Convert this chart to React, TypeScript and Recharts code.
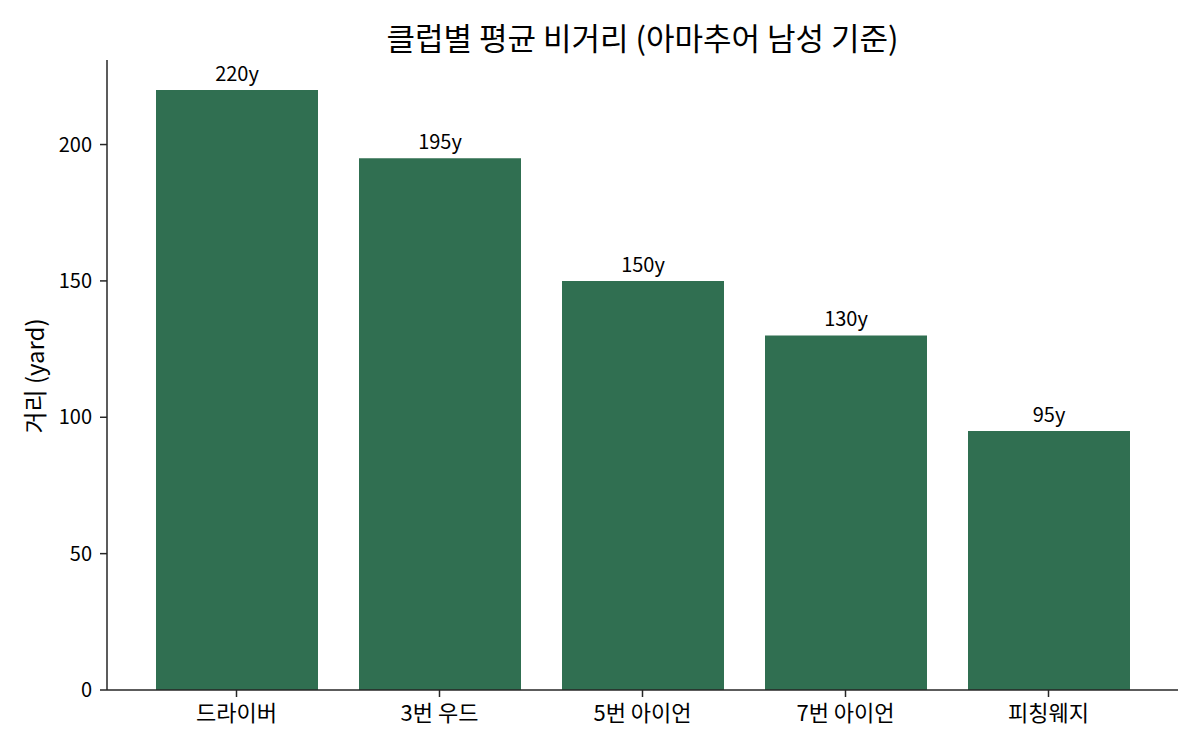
import React from "react";
import { BarChart, Bar, XAxis, YAxis, LabelList } from "recharts";

const clubs = ["드라이버", "3번 우드", "5번 아이언", "7번 아이언", "피칭웨지"];
const distances = [220, 195, 150, 130, 95];
const yTicks = [0, 50, 100, 150, 200];

const data = clubs.map((club, i) => ({ club, distance: distances[i] }));

const FONT = '"Noto Sans CJK KR", "Noto Sans", sans-serif';
const AXIS = "#262626";

export default function App() {
  return (
    <div style={{ position: "absolute", left: 0, top: 0, width: 1200, height: 750, background: "#fff", fontFamily: FONT }}>
      <div
        style={{
          position: "absolute",
          left: 107,
          width: 1071,
          top: 21,
          textAlign: "center",
          fontSize: 31,
          lineHeight: "31px",
          color: "#000",
          fontFamily: FONT,
        }}
      >
        클럽별 평균 비거리 (아마추어 남성 기준)
      </div>
      <BarChart
        width={1200}
        height={750}
        data={data}
        margin={{ top: 60, right: 22, bottom: 0, left: 0 }}
        style={{ fontFamily: FONT }}
      >
        <XAxis
          dataKey="club"
          height={60}
          padding={{ left: 28, right: 28 }}
          tickSize={7}
          tickMargin={8}
          axisLine={{ stroke: AXIS, strokeWidth: 1.5 }}
          tickLine={{ stroke: AXIS, strokeWidth: 1.5 }}
          tick={{ fill: "#000", fontSize: 22, fontFamily: FONT }}
          interval={0}
        />
        <YAxis
          width={107}
          domain={[0, 231]}
          ticks={yTicks}
          tickSize={7}
          tickMargin={8}
          axisLine={{ stroke: AXIS, strokeWidth: 1.5 }}
          tickLine={{ stroke: AXIS, strokeWidth: 1.5 }}
          tick={{ fill: "#000", fontSize: 20, fontFamily: FONT }}
          allowDataOverflow
          label={(props: any) => {
            const vb = props.viewBox || { x: 0, y: 60, width: 107, height: 630 };
            const cx = vb.x + 33;
            const cy = vb.y + vb.height / 2 + 1;
            return (
              <text
                x={cx}
                y={cy}
                transform={`rotate(-90 ${cx} ${cy})`}
                textAnchor="middle"
                dominantBaseline="central"
                fontSize={24}
                fill="#000"
                fontFamily={FONT}
              >
                거리 (yard)
              </text>
            );
          }}
        />
        <Bar dataKey="distance" fill="#306f51" barSize={162} isAnimationActive={false}>
          <LabelList
            dataKey="distance"
            position="top"
            offset={9}
            formatter={(v: any) => `${v}y`}
            style={{ fill: "#000", fontSize: 20, fontFamily: FONT }}
          />
        </Bar>
      </BarChart>
    </div>
  );
}
